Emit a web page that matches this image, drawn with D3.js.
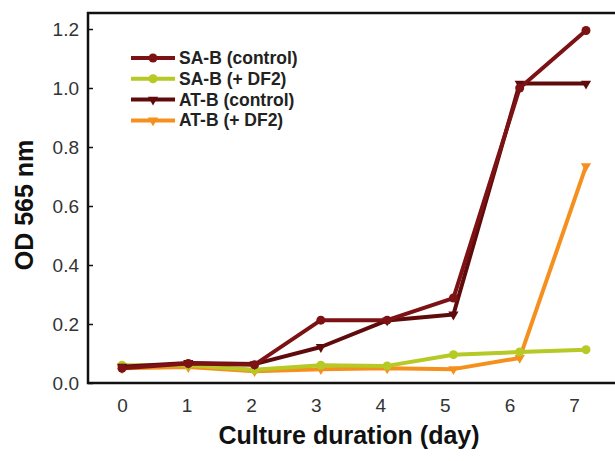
<!DOCTYPE html>
<html lang="en">
<head>
    <meta charset="UTF-8">
    <title>OD 565 nm vs culture duration</title>
    <script src="https://d3js.org/d3.v7.min.js"></script>
    <style>
        body { margin: 0; background: #fff; }
        text { font-family: Arial, "Liberation Sans", sans-serif; }
    </style>
</head>
<body>
    <svg id="chart" width="615" height="461"></svg>
    <script>
        // data
        let days = [0, 1, 2, 3, 4, 5, 6, 7];
        let saControl = [0.050, 0.066, 0.062, 0.213, 0.213, 0.288, 1.00, 1.195];
        let saDF2 = [0.060, 0.060, 0.045, 0.060, 0.058, 0.096, 0.105, 0.113];
        let atControl = [0.055, 0.068, 0.064, 0.122, 0.212, 0.232, 1.015, 1.015];
        let atDF2 = [0.050, 0.054, 0.040, 0.047, 0.050, 0.047, 0.085, 0.735];
        let yTicks = [0.0, 0.2, 0.4, 0.6, 0.8, 1.0, 1.2];

        let series = [
            {name: "SA-B (control)", values: saControl, color: "#7d1214", marker: "circle"},
            {name: "SA-B (+ DF2)", values: saDF2, color: "#b6c924", marker: "circle"},
            {name: "AT-B (control)", values: atControl, color: "#5f0b0c", marker: "tri"},
            {name: "AT-B (+ DF2)", values: atDF2, color: "#f5901f", marker: "tri"}
        ];

        let svg = d3.select("#chart");
        let plotLeft = 88, plotTop = 13, plotBottom = 383, plotRight = 640;

        // data positions and label positions differ a bit in the original
        let x = d3.scaleLinear().domain([0, 7]).range([122, 586]);
        let xLab = d3.scaleLinear().domain([0, 7]).range([122, 574]);
        let y = d3.scaleLinear().domain([0, 1.2]).range([plotBottom, plotBottom - 354]);

        // frame
        svg.append("path")
            .attr("d", `M${plotRight},${plotTop}H${plotLeft}V${plotBottom}H${plotRight}`)
            .attr("fill", "none")
            .attr("stroke", "#111")
            .attr("stroke-width", 2.5);

        // y axis
        let yAxis = d3.axisRight(y).tickValues(yTicks).tickFormat(d3.format(".1f")).tickSize(5);
        let gy = svg.append("g").attr("transform", `translate(${plotLeft},0)`).call(yAxis);
        gy.select(".domain").remove();
        gy.selectAll("line").attr("stroke", "#111").attr("stroke-width", 1.5);
        gy.selectAll("text")
            .attr("x", -9)
            .attr("text-anchor", "end")
            .attr("font-size", 19)
            .attr("fill", "#333");

        // x axis labels
        let xAxis = d3.axisBottom(xLab).tickValues(days).tickFormat(d3.format("d"))
            .tickSize(0).tickPadding(16);
        let gx = svg.append("g").attr("transform", `translate(0,${plotBottom})`).call(xAxis);
        gx.select(".domain").remove();
        gx.selectAll("text").attr("font-size", 19).attr("fill", "#333");

        // axis titles
        svg.append("text")
            .attr("x", 349).attr("y", 444)
            .attr("text-anchor", "middle")
            .attr("font-size", 25).attr("font-weight", "bold").attr("fill", "#111")
            .text("Culture duration (day)");
        svg.append("text")
            .attr("transform", "translate(33,205) rotate(-90)")
            .attr("text-anchor", "middle")
            .attr("font-size", 25).attr("font-weight", "bold").attr("fill", "#111")
            .text("OD 565 nm");

        let line = d3.line().x((d, i) => x(days[i])).y(d => y(d));
        let tri = d3.symbol().type(d3.symbolTriangle).size(45);

        function drawMarker(g, s, px, py) {
            if (s.marker === "circle") {
                g.append("circle").attr("cx", px).attr("cy", py).attr("r", 4.5).attr("fill", s.color);
            } else {
                g.append("path").attr("d", tri)
                    .attr("transform", `translate(${px},${py}) rotate(180)`)
                    .attr("fill", s.color);
            }
        }

        // lines, drawn so that the control lines sit on top
        let order = [3, 1, 2, 0];
        order.forEach(function(k) {
            let s = series[k];
            let g = svg.append("g");
            g.append("path")
                .attr("d", line(s.values))
                .attr("fill", "none")
                .attr("stroke", s.color)
                .attr("stroke-width", 4)
                .attr("stroke-linejoin", "round");
            s.values.forEach(function(v, i) {
                drawMarker(g, s, x(days[i]), y(v));
            });
        });

        // legend
        series.forEach(function(s, i) {
            let ly = 58 + i * 20.8;
            let g = svg.append("g");
            g.append("line")
                .attr("x1", 131).attr("x2", 175)
                .attr("y1", ly).attr("y2", ly)
                .attr("stroke", s.color).attr("stroke-width", 4);
            drawMarker(g, s, 153, ly);
            g.append("text")
                .attr("x", 179).attr("y", ly + 6)
                .attr("font-size", 17.5).attr("font-weight", "bold").attr("fill", "#222")
                .text(s.name);
        });
    </script>
</body>
</html>
